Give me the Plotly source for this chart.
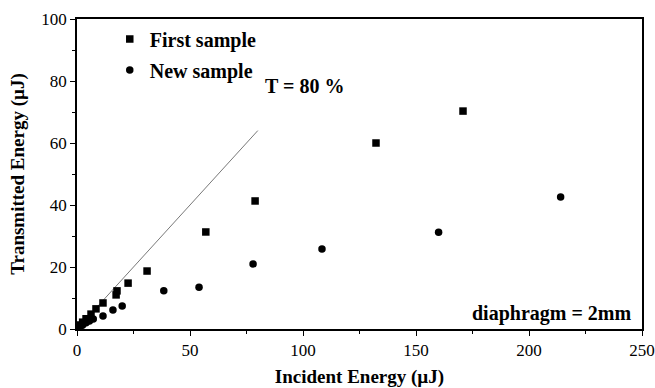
import plotly.graph_objects as go

first_x = [0.8, 1.5, 2.5, 4.0, 6.2, 8.4, 11.5, 17.3, 17.7, 22.6, 31.0, 57.0, 78.8, 132.3, 170.8]
first_y = [0.6, 1.3, 2.2, 3.3, 4.8, 6.5, 8.4, 11.0, 12.3, 14.8, 18.7, 31.3, 41.3, 60.0, 70.3]

new_x = [1.0, 2.5, 4.0, 5.5, 7.2, 11.5, 15.9, 20.0, 38.4, 54.0, 77.9, 108.4, 160.0, 214.0]
new_y = [0.5, 1.3, 2.0, 2.6, 3.2, 4.2, 6.1, 7.4, 12.3, 13.5, 21.0, 25.8, 31.2, 42.6]

ref_x = [0, 80]
transmission = 0.8
ref_y = [v * transmission for v in ref_x]

serif = "Liberation Serif, DejaVu Serif, Noto Serif, serif"

fig = go.Figure()
fig.add_trace(go.Scatter(x=ref_x, y=ref_y, mode="lines",
                         line=dict(color="#555", width=0.8), showlegend=False))
fig.add_trace(go.Scatter(x=first_x, y=first_y, mode="markers", name="First sample",
                         legendgroup="a",
                         marker=dict(symbol="square", size=7.5, color="black")))
fig.add_trace(go.Scatter(x=new_x, y=new_y, mode="markers", name="New sample",
                         legendgroup="b",
                         marker=dict(symbol="circle", size=7.5, color="black")))

fig.update_layout(
    width=655, height=388,
    margin=dict(l=77, r=13, t=19, b=59, autoexpand=False),
    paper_bgcolor="white", plot_bgcolor="white",
    font=dict(family=serif, color="black", size=16),
    legend=dict(x=0.058, y=0.998, xanchor="left", yanchor="top",
                font=dict(family=serif, size=20, color="black", weight="bold"),
                bgcolor="rgba(0,0,0,0)", traceorder="grouped", tracegroupgap=2, itemwidth=30),
    xaxis=dict(range=[0, 250], tickvals=[0, 50, 100, 150, 200, 250], automargin=False,
               ticks="outside", ticklen=5, tickwidth=1, tickcolor="black",
               minor=dict(tickvals=[25, 75, 125, 175, 225], ticks="outside", ticklen=3, tickcolor="black"),
               showline=True, linecolor="black", linewidth=1.5, mirror=True,
               showgrid=False, zeroline=False,
               tickfont=dict(family=serif, size=17),
               title=dict(text="Incident Energy (µJ)", font=dict(family=serif, size=19, weight="bold"), standoff=12)),
    yaxis=dict(range=[0, 100], tickvals=[0, 20, 40, 60, 80, 100], automargin=False,
               ticks="outside", ticklen=5, tickwidth=1, tickcolor="black",
               minor=dict(tickvals=[10, 30, 50, 70, 90], ticks="outside", ticklen=3, tickcolor="black"),
               showline=True, linecolor="black", linewidth=1.5, mirror=True,
               showgrid=False, zeroline=False,
               tickfont=dict(family=serif, size=17),
               title=dict(text="Transmitted Energy (µJ)", font=dict(family=serif, size=19, weight="bold"), standoff=12)),
    annotations=[
        dict(x=82.5, y=78.4, xanchor="left", yanchor="middle", text="T = 80 %", showarrow=False,
             font=dict(family=serif, size=20, weight="bold")),
        dict(x=246.5, y=5.0, xanchor="right", yanchor="middle", text="diaphragm = 2mm", showarrow=False,
             font=dict(family=serif, size=20, weight="bold")),
    ],
)

fig.write_html("out.html")
